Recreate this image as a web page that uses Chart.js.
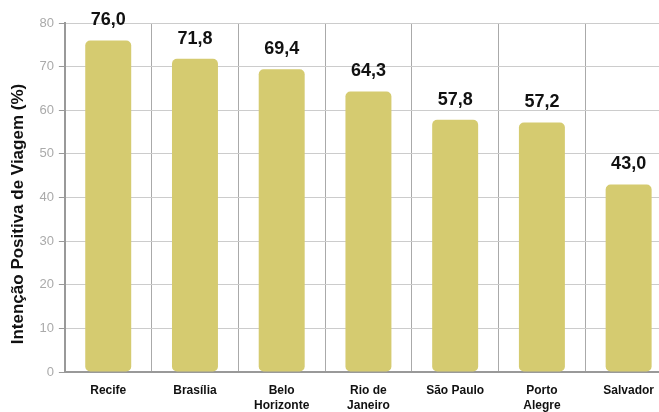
<!DOCTYPE html>
<html>
<head>
<meta charset="utf-8">
<script src="https://cdn.jsdelivr.net/npm/chart.js@4/dist/chart.umd.min.js"></script>
<style>
  html, body { margin: 0; padding: 0; background: #fff; overflow: hidden; }
  #wrap { position: relative; width: 672px; height: 424px; }
</style>
</head>
<body>
<div id="wrap"><canvas id="chart"></canvas></div>
<script>
const cities = [['Recife'], ['Brasília'], ['Belo', 'Horizonte'], ['Rio de', 'Janeiro'], ['São Paulo'], ['Porto', 'Alegre'], ['Salvador']];
const intencao = [76.0, 71.8, 69.4, 64.3, 57.8, 57.2, 43.0];
const yTicks = [0, 10, 20, 30, 40, 50, 60, 70, 80];

const FONT = '"Liberation Sans", Arial, Helvetica, sans-serif';

// draw the values above each bar, with a comma as decimal mark
const valueLabels = {
    id: 'valueLabels',
    afterDatasetsDraw(chart) {
        const ctx = chart.ctx;
        const meta = chart.getDatasetMeta(0);
        ctx.save();
        ctx.font = 'bold 18px ' + FONT;
        ctx.fillStyle = '#111';
        ctx.textAlign = 'center';
        ctx.textBaseline = 'alphabetic';
        meta.data.forEach((bar, i) => {
            ctx.fillText(intencao[i].toFixed(1).replace('.', ','), bar.x, bar.y - 15);
        });
        ctx.restore();
    }
};

const ctx = document.getElementById('chart').getContext('2d');
const chart = new Chart(ctx, {
    type: 'bar',
    data: {
        labels: cities,
        datasets: [{
            data: intencao,
            backgroundColor: '#d5cb70',
            borderRadius: 5,
            borderSkipped: false,
            barPercentage: 0.53,
            categoryPercentage: 1.0
        }]
    },
    options: {
        responsive: true,
        maintainAspectRatio: false,
        animation: false,
        layout: { padding: { top: 23, left: 8, right: 0, bottom: 0 } },
        plugins: {
            legend: { display: false },
            tooltip: { enabled: false }
        },
        scales: {
            x: {
                grid: { color: '#aaaaaa', lineWidth: 1, drawTicks: false, offset: true },
                border: { color: '#999999', width: 2 },
                ticks: {
                    color: '#111',
                    font: { family: FONT, size: 12, weight: 'bold', lineHeight: 1.25 },
                    padding: 11,
                    maxRotation: 0,
                    autoSkip: false
                }
            },
            y: {
                min: 0,
                max: 80,
                afterBuildTicks: axis => { axis.ticks = yTicks.map(v => ({ value: v })); },
                grid: { color: '#cccccc', lineWidth: 1, tickLength: 6, tickColor: '#999999' },
                border: { color: '#999999', width: 2 },
                ticks: {
                    color: '#aaaaaa',
                    font: { family: FONT, size: 13 },
                    padding: 5
                },
                title: {
                    display: true,
                    // trailing spaces push the rotated title a little downward, as in the original
                    text: 'Intenção Positiva de Viagem (%)       ',
                    color: '#111',
                    font: { family: FONT, size: 17, weight: 'bold' },
                    padding: { top: 0, bottom: 6 }
                }
            }
        }
    },
    plugins: [valueLabels]
});
</script>
</body>
</html>
